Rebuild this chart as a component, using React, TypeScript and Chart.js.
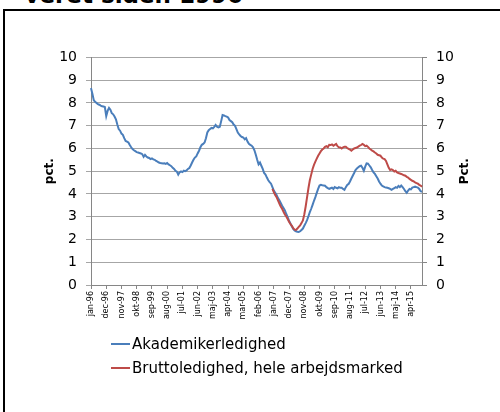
import React, { useEffect, useRef } from 'react';
import { Chart, registerables } from 'chart.js';

Chart.register(...registerables);

const FONT = "'DejaVu Sans', Verdana, sans-serif";

const monthNames = ['jan', 'feb', 'mar', 'apr', 'maj', 'jun', 'jul', 'aug', 'sep', 'okt', 'nov', 'dec'];
const firstYear = 1996;
const lastYear = 2015;
const labelStep = 11;

const yMin = 0;
const yMax = 10;
const yStep = 1;

const seriesNames = ['Akademikerledighed', 'Bruttoledighed, hele arbejdsmarked'];
const seriesColors = ['#4a7ebb', '#be4b48'];

// Akademikerledighed, monthly jan-96 .. dec-15
const akademiker = [
  8.65, 8.4, 8.12, 8.05, 8.0, 7.95, 7.92, 7.88, 7.85, 7.84, 7.82, 7.42,
  7.65, 7.78, 7.7, 7.55, 7.5, 7.4, 7.28, 7.05, 6.85, 6.78, 6.65, 6.6,
  6.45, 6.33, 6.3, 6.26, 6.15, 6.05, 5.97, 5.92, 5.88, 5.84, 5.82, 5.8,
  5.78, 5.75, 5.63, 5.72, 5.65, 5.6, 5.58, 5.53, 5.56, 5.52, 5.5, 5.45,
  5.42, 5.38, 5.36, 5.35, 5.34, 5.35, 5.32, 5.36, 5.3, 5.26, 5.22, 5.15,
  5.1, 5.02, 4.98, 4.85, 4.95, 4.99, 4.96, 5.02, 5.0, 5.03, 5.1, 5.14,
  5.25, 5.38, 5.5, 5.6, 5.65, 5.78, 5.9, 6.05, 6.16, 6.2, 6.26, 6.45,
  6.7, 6.8, 6.85, 6.9, 6.88, 6.95, 7.03, 6.95, 6.92, 6.95, 7.2, 7.47,
  7.45, 7.42, 7.4, 7.36, 7.25, 7.2, 7.15, 7.05, 6.99, 6.85, 6.7, 6.62,
  6.55, 6.5, 6.48, 6.4, 6.45, 6.3, 6.2, 6.16, 6.12, 6.05, 5.92, 5.72,
  5.5, 5.3, 5.38, 5.24, 5.1, 4.92, 4.85, 4.72, 4.6, 4.52, 4.45, 4.3,
  4.15, 4.05, 3.95, 3.82, 3.72, 3.6, 3.48, 3.38, 3.28, 3.12, 2.98, 2.82,
  2.7, 2.58, 2.46, 2.4, 2.36, 2.34, 2.33, 2.36, 2.42, 2.48, 2.6, 2.72,
  2.85, 3.02, 3.2, 3.35, 3.52, 3.7, 3.86, 4.05, 4.22, 4.37, 4.4, 4.38,
  4.37, 4.36, 4.3, 4.25, 4.22, 4.25, 4.28, 4.22, 4.3, 4.27, 4.25, 4.3,
  4.27, 4.27, 4.22, 4.18, 4.3, 4.4, 4.44, 4.55, 4.68, 4.8, 4.92, 5.05,
  5.12, 5.17, 5.22, 5.24, 5.15, 5.02, 5.2, 5.34, 5.33, 5.25, 5.17, 5.05,
  4.95, 4.88, 4.78, 4.68, 4.55, 4.45, 4.37, 4.33, 4.3, 4.28, 4.27, 4.25,
  4.22, 4.18, 4.22, 4.25, 4.3, 4.27, 4.35, 4.3, 4.37, 4.3, 4.22, 4.12,
  4.05, 4.15, 4.22, 4.2, 4.28, 4.3, 4.32, 4.3, 4.28, 4.22, 4.12, 4.1,
];

// Bruttoledighed, monthly from dec-06 .. dec-15
const bruttoStartLabel = 'dec-06';
const brutto = [
  4.22,
  4.08, 3.95, 3.86, 3.72, 3.58, 3.45, 3.35, 3.22, 3.1, 3.01, 2.9, 2.78,
  2.68, 2.6, 2.5, 2.43, 2.42, 2.48, 2.55, 2.62, 2.72, 2.84, 3.1, 3.45,
  3.85, 4.25, 4.6, 4.85, 5.1, 5.28, 5.42, 5.55, 5.68, 5.78, 5.88, 5.95,
  6.0, 6.07, 6.1, 6.05, 6.16, 6.15, 6.18, 6.12, 6.16, 6.2, 6.1, 6.05,
  6.04, 6.0, 6.05, 6.07, 6.07, 6.02, 5.98, 5.95, 5.9, 5.95, 6.0, 6.02,
  6.04, 6.08, 6.12, 6.15, 6.2, 6.16, 6.1, 6.12, 6.07, 6.0, 5.95, 5.9,
  5.87, 5.82, 5.78, 5.72, 5.7, 5.68, 5.6, 5.55, 5.53, 5.45, 5.3, 5.15,
  5.05, 5.08, 5.05, 4.99, 5.02, 4.95, 4.92, 4.9, 4.88, 4.85, 4.82, 4.8,
  4.75, 4.72, 4.66, 4.62, 4.58, 4.55, 4.51, 4.48, 4.45, 4.4, 4.37, 4.32,
];

const headerText = 'veret siden 1996';
const leftTitle = 'pct.';
const rightTitle = 'Pct.';

const labels: string[] = [];
for (let y = firstYear; y <= lastYear; y++) {
  for (const m of monthNames) labels.push(`${m}-${String(y % 100).padStart(2, '0')}`);
}
const bruttoStart = labels.indexOf(bruttoStartLabel);
const bruttoData = labels.map((_, i) => (i >= bruttoStart ? brutto[i - bruttoStart] : null));

const rightTitlePlugin = {
  id: 'rightTitle',
  afterDraw(chart: any) {
    const s = chart.scales.y2;
    const ctx = chart.ctx;
    ctx.save();
    ctx.translate(s.right - 25, (s.top + s.bottom) / 2);
    ctx.rotate(-Math.PI / 2);
    ctx.font = `bold 12px ${FONT}`;
    ctx.fillStyle = '#000';
    ctx.textAlign = 'center';
    ctx.textBaseline = 'middle';
    ctx.fillText(rightTitle, 0, 0);
    ctx.restore();
  },
};

function LineChart() {
  const ref = useRef<HTMLCanvasElement | null>(null);
  useEffect(() => {
    if (!ref.current) return;
    Chart.defaults.font.family = FONT;
    const yTicks = { stepSize: yStep, padding: 9, font: { size: 14 }, color: '#000' };
    const chart = new Chart(ref.current, {
      type: 'line',
      data: {
        labels,
        datasets: [
          {
            label: seriesNames[0],
            data: akademiker,
            borderColor: seriesColors[0],
            backgroundColor: seriesColors[0],
            borderWidth: 2,
            pointRadius: 0,
            order: 1,
            yAxisID: 'y',
          },
          {
            label: seriesNames[1],
            data: bruttoData,
            borderColor: seriesColors[1],
            backgroundColor: seriesColors[1],
            borderWidth: 2,
            pointRadius: 0,
            order: 0,
            yAxisID: 'y',
          },
        ],
      },
      options: {
        animation: false,
        responsive: false,
        maintainAspectRatio: false,
        layout: { padding: { top: 16, left: 0, right: 0, bottom: 0 } },
        plugins: { legend: { display: false }, tooltip: { enabled: false } },
        elements: { line: { tension: 0 } },
        scales: {
          x: {
            type: 'category',
            grid: { drawOnChartArea: false, tickLength: 4, color: '#868686' },
            border: { color: '#868686' },
            ticks: {
              autoSkip: false,
              maxRotation: 90,
              minRotation: 90,
              padding: 2,
              font: { size: 8 },
              color: '#000',
              callback: (_v: any, i: number) => (i % labelStep === 0 ? labels[i] : null),
            },
            afterFit: (s: any) => {
              s.height = 55;
            },
          },
          y: {
            position: 'left',
            min: yMin,
            max: yMax,
            ticks: yTicks,
            grid: { color: '#a6a6a6', tickLength: 5 },
            border: { color: '#868686' },
            title: {
              display: true,
              text: leftTitle,
              color: '#000',
              font: { size: 12, weight: 'bold' },
              padding: { top: 23, bottom: 0 },
            },
            afterFit: (s: any) => {
              s.width = 71;
            },
          },
          y2: {
            position: 'right',
            min: yMin,
            max: yMax,
            ticks: yTicks,
            grid: { drawOnChartArea: false, color: '#868686', tickLength: 5 },
            border: { color: '#868686' },
            afterFit: (s: any) => {
              s.width = 68;
            },
          },
        },
      } as any,
      plugins: [rightTitlePlugin],
    });
    return () => chart.destroy();
  }, []);
  return (
    <canvas
      ref={ref}
      width={470}
      height={300}
      style={{ position: 'absolute', left: 20, top: 40, width: 470, height: 300 }}
    />
  );
}

export default function App() {
  return (
    <div
      style={{
        position: 'fixed',
        left: 0,
        top: 0,
        width: 500,
        height: 412,
        background: '#fff',
        overflow: 'hidden',
        fontFamily: FONT,
      }}
    >
      <div
        style={{
          position: 'absolute',
          right: 257,
          top: -16,
          fontSize: 23,
          lineHeight: '23px',
          fontWeight: 'bold',
          whiteSpace: 'nowrap',
          color: '#000',
        }}
      >
        {headerText}
      </div>
      <div style={{ position: 'absolute', left: 3, top: 9, width: 497, height: 2, background: '#000' }} />
      <div style={{ position: 'absolute', left: 3, top: 9, width: 2, height: 403, background: '#000' }} />
      <LineChart />
      <div style={{ position: 'absolute', left: 111, top: 332 }}>
        {seriesNames.map((name, i) => (
          <div key={name} style={{ display: 'flex', alignItems: 'center', height: 24 }}>
            <span style={{ display: 'inline-block', width: 19, height: 2, background: seriesColors[i], marginRight: 2 }} />
            <span style={{ fontSize: 15, color: '#000', whiteSpace: 'nowrap' }}>{name}</span>
          </div>
        ))}
      </div>
      <div style={{ position: 'absolute', left: 494, top: 11, width: 6, height: 401, background: '#fff', zIndex: 5 }} />
    </div>
  );
}
